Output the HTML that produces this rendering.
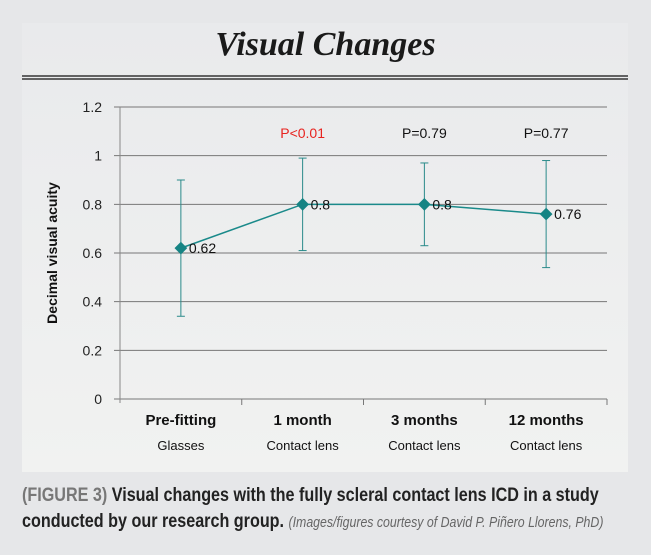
<!DOCTYPE html>
<html><head><meta charset="utf-8"><style>
html,body{margin:0;padding:0;}
body{width:651px;height:555px;background:#e6e7e9;position:relative;overflow:hidden;font-family:"Liberation Sans",sans-serif;}
#panel{position:absolute;left:22px;top:23px;width:606px;height:449px;background:linear-gradient(#e9eaec,#f1f2f1);}
#title{position:absolute;left:0;width:651px;top:26px;text-align:center;font:italic bold 34px "Liberation Serif",serif;color:#1a1a1a;}
.cap{position:absolute;left:22px;white-space:nowrap;transform:scaleX(0.85);transform-origin:0 0;font-weight:bold;font-size:19px;color:#222;}
</style></head><body>
<div id="panel"></div>
<div id="title">Visual Changes</div>
<svg width="651" height="555" style="position:absolute;left:0;top:0" id="svg">
<line x1="22" y1="76" x2="628" y2="76" stroke="#111" stroke-width="1.3"/>
<line x1="22" y1="79" x2="628" y2="79" stroke="#111" stroke-width="1.3"/>
</svg>
<div class="cap" style="top:485px"><span style="color:#777">(FIGURE 3)</span> Visual changes with the fully scleral contact lens ICD in a study</div>
<div class="cap" style="top:511px">conducted by our research group. <span style="font-weight:normal;font-style:italic;color:#666;font-size:14.5px">(Images/figures courtesy of David P. Piñero Llorens, PhD)</span></div>
<script>
const categories=["Pre-fitting","1 month","3 months","12 months"];
const subLabels=["Glasses","Contact lens","Contact lens","Contact lens"];
const values=[0.62,0.8,0.8,0.76];
const upper=[0.9,0.99,0.97,0.98];
const lower=[0.34,0.61,0.63,0.54];
const pLabels=["","P<0.01","P=0.79","P=0.77"];
const yTicks=[0,0.2,0.4,0.6,0.8,1,1.2];
const yTickLabels=["0","0.2","0.4","0.6","0.8","1","1.2"];
const NS="http://www.w3.org/2000/svg";
const svg=document.getElementById('svg');
const x0=120,x1=607,y0=399,y1=107;
const y=v=>y0-(v/1.2)*(y0-y1);
const bw=(x1-x0)/categories.length;
const x=i=>x0+bw*(i+0.5);
function el(t,a,txt){const e=document.createElementNS(NS,t);for(const k in a)e.setAttribute(k,a[k]);if(txt!==undefined)e.textContent=txt;svg.appendChild(e);return e;}
yTicks.forEach((v,i)=>{
 let g=el('line',{x1:x0-6,x2:x1,y1:y(v),y2:y(v),stroke:'#777','stroke-width':1});
 
 
 let t=el('text',{x:102,y:y(v)+5,'text-anchor':'end','font-size':14,fill:'#222'},yTickLabels[i]);
 
 
});
let ya=el('line',{x1:x0,x2:x0,y1:y1,y2:y0+4,stroke:'#888'});


for(let i=1;i<=categories.length;i++){let tk=el('line',{x1:x0+bw*i,x2:x0+bw*i,y1:y0,y2:y0+6,stroke:'#777'});

}
let yt=el('text',{x:0,y:0,transform:'translate(57,253) rotate(-90)','text-anchor':'middle','font-size':14,'font-weight':'bold',fill:'#111'},'Decimal visual acuity');


categories.forEach((c,i)=>{
 let a=el('text',{x:x(i),y:425,'text-anchor':'middle','font-size':15,'font-weight':'bold',fill:'#111'},c);
 
 
 let b=el('text',{x:x(i),y:450,'text-anchor':'middle','font-size':13,fill:'#111'},subLabels[i]);
 
 
 if(pLabels[i]){let p=el('text',{x:x(i),y:138,'text-anchor':'middle','font-size':14,fill:i==1?'#e8231f':'#111'},pLabels[i]);
 
 }
 let e=el('line',{x1:x(i),x2:x(i),y1:y(upper[i]),y2:y(lower[i]),stroke:'#2a8a8a','stroke-width':1});
 
 
 [upper[i],lower[i]].forEach(v=>{let c2=el('line',{x1:x(i)-4,x2:x(i)+4,y1:y(v),y2:y(v),stroke:'#2a8a8a'});
 
 });
});
let pl=el('polyline',{points:values.map((v,i)=>x(i)+','+y(v)).join(' '),fill:'none',stroke:'#1a8a8a','stroke-width':1.5});


values.forEach((v,i)=>{
 let d=el('rect',{x:x(i)-4.5,y:y(v)-4.5,width:9,height:9,fill:'#168484',transform:`rotate(45 ${x(i)} ${y(v)})`});
 
 
 let t=el('text',{x:x(i)+8,y:y(v)+5,'font-size':14,fill:'#111'},String(v));
 
 
});
</script>
</body></html>
